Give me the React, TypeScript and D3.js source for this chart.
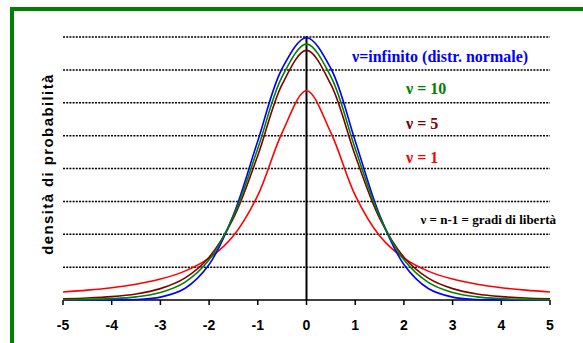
import React from "react";
import * as d3 from "d3";

// x positions (t) where the densities were read
const tValues = [-5, -4.5, -4, -3.5, -3, -2.5, -2, -1.5, -1, -0.5, 0, 0.5, 1, 1.5, 2, 2.5, 3, 3.5, 4, 4.5, 5];

// densities
const nuInfinity = [0.0000015, 0.000016, 0.00013, 0.00087, 0.0044, 0.0175, 0.054, 0.1295, 0.242, 0.3521, 0.3989, 0.3521, 0.242, 0.1295, 0.054, 0.0175, 0.0044, 0.00087, 0.00013, 0.000016, 0.0000015];
const nu10 = [0.0004, 0.00088, 0.00203, 0.00478, 0.0114, 0.0269, 0.0611, 0.1274, 0.2304, 0.3397, 0.3891, 0.3397, 0.2304, 0.1274, 0.0611, 0.0269, 0.0114, 0.00478, 0.00203, 0.00088, 0.0004];
const nu5 = [0.00176, 0.00295, 0.00512, 0.00924, 0.0173, 0.0333, 0.0651, 0.1245, 0.2197, 0.3279, 0.3796, 0.3279, 0.2197, 0.1245, 0.0651, 0.0333, 0.0173, 0.00924, 0.00512, 0.00295, 0.00176];
const nu1 = [0.0122, 0.015, 0.0187, 0.024, 0.0318, 0.0439, 0.0637, 0.0979, 0.1592, 0.2546, 0.3183, 0.2546, 0.1592, 0.0979, 0.0637, 0.0439, 0.0318, 0.024, 0.0187, 0.015, 0.0122];

const xTicks = [-5, -4, -3, -2, -1, 0, 1, 2, 3, 4, 5];
const gridValues = [0.05, 0.1, 0.15, 0.2, 0.25, 0.3, 0.35, 0.4];

const seriesNames = ["nuInfinity", "nu10", "nu5", "nu1"];
const seriesColors = ["#0000ff", "#008000", "#800000", "#ff0000"];
const legendLabels = ["ν=infinito (distr. normale)", "ν = 10", "ν = 5", "ν = 1"];

const width = 583;
const height = 343;

export default function App() {
  const x = d3.scaleLinear().domain([-5, 5]).range([63, 550]);
  const y = d3.scaleLinear().domain([0, 0.4]).range([300, 37]);

  const series = [nuInfinity, nu10, nu5, nu1];
  const line = d3
    .line<[number, number]>()
    .x((d) => x(d[0]))
    .y((d) => y(d[1]))
    .curve(d3.curveCatmullRom.alpha(0.5));

  // draw order: red at back, blue on top
  const order = [3, 2, 0, 1];

  return (
    <svg
      width={width}
      height={height}
      style={{ position: "absolute", left: 0, top: 0, background: "#fff" }}
    >
      {/* green frame, only left and top show */}
      <rect x={12} y={9} width={620} height={400} fill="none" stroke="#008000" strokeWidth={4} />

      {gridValues.map((v) => (
        <line
          key={v}
          x1={x(-5)}
          x2={x(5)}
          y1={y(v)}
          y2={y(v)}
          stroke="#000"
          strokeWidth={1.5}
          strokeDasharray="2 1.2"
        />
      ))}

      {/* x axis */}
      <line x1={x(-5)} x2={x(5)} y1={y(0)} y2={y(0)} stroke="#000" strokeWidth={1.5} />
      {xTicks.map((t) => (
        <g key={t}>
          <line x1={x(t)} x2={x(t)} y1={y(0)} y2={y(0) + 5} stroke="#000" strokeWidth={1.5} />
          <text
            x={x(t)}
            y={330}
            textAnchor="middle"
            fontFamily="'Liberation Sans', Arial, sans-serif"
            fontWeight="bold"
            fontSize={14}
          >
            {t}
          </text>
        </g>
      ))}
      {/* vertical line at zero */}
      <line x1={x(0)} x2={x(0)} y1={y(0.4) - 1} y2={y(0)} stroke="#000" strokeWidth={2} />

      {order.map((i) => (
        <path
          key={seriesNames[i]}
          d={line(tValues.map((t, k) => [t, series[i][k]] as [number, number])) || ""}
          fill="none"
          stroke={seriesColors[i]}
          strokeWidth={1.6}
        />
      ))}

      <text
        transform="translate(53,164) rotate(-90)"
        textAnchor="middle"
        fontFamily="'Liberation Sans', Arial, sans-serif"
        fontWeight="bold"
        fontSize={15}
        letterSpacing={1.4}
      >
        densità di probabilità
      </text>

      {legendLabels.map((label, i) => (
        <text
          key={label}
          x={i === 0 ? 352 : 406}
          y={[62, 94, 129, 163][i]}
          fill={seriesColors[i]}
          fontFamily="'Liberation Serif', 'Times New Roman', serif"
          fontWeight="bold"
          fontSize={16}
        >
          {label}
        </text>
      ))}

      <text
        x={556}
        y={224}
        textAnchor="end"
        fontFamily="'Liberation Serif', 'Times New Roman', serif"
        fontWeight="bold"
        fontSize={13}
      >
        ν = n-1 = gradi di libertà
      </text>
    </svg>
  );
}
